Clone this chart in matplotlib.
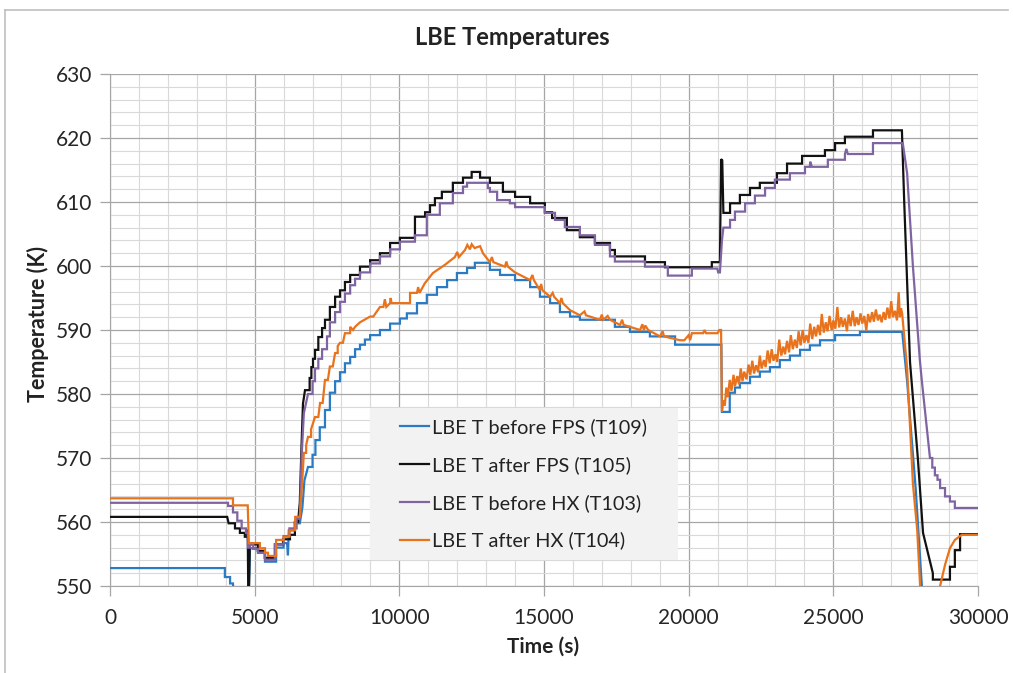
import matplotlib
matplotlib.use("Agg")
import matplotlib.pyplot as plt
from matplotlib.patches import Rectangle
from matplotlib.lines import Line2D
from matplotlib.ticker import MultipleLocator

plt.rcParams['font.family'] = ['Lato', 'DejaVu Sans']

# --- data (time s, temperature K) ---
# vertices are given explicitly; a stair step is two points with the same time
t109 = [(0, 552.8), (3970, 552.8), (3970, 551.4), (4150, 551.4), (4150, 550.4), (4250, 550.4),
        (4300, 547), (4780, 547), (4840, 555.9), (5115, 555.9), (5115, 555.2), (5357, 555.2),
        (5357, 553.8), (5740, 553.8), (5740, 556), (6000, 556), (6000, 556.7), (6120, 556.7),
        (6150, 554.8), (6180, 558.7), (6390, 558.7), (6390, 559.8), (6560, 559.8), (6650, 562.3),
        (6720, 566.5), (6780, 567.5), (6843, 568.6), (7000, 568.6), (7000, 570.5), (7100, 570.5),
        (7100, 572.8), (7250, 572.8), (7250, 574.8), (7430, 574.8), (7430, 577.5), (7600, 577.5),
        (7600, 580.2), (7780, 580.2), (7780, 582), (7950, 582), (7950, 583.4), (8120, 583.4),
        (8120, 584.8), (8300, 584.8), (8300, 585.8), (8470, 585.8), (8470, 587), (8640, 587),
        (8640, 587.7), (8810, 587.7), (8810, 588.5), (8990, 588.5), (8990, 589.2), (9330, 589.2),
        (9330, 590), (9680, 590), (9680, 591), (10020, 591), (10020, 591.8), (10260, 591.8),
        (10260, 592.6), (10610, 592.6), (10610, 594.2), (10950, 594.2), (10950, 595.5), (11300, 595.5),
        (11300, 596.7), (11650, 596.7), (11650, 597.8), (11990, 597.8), (11990, 598.9), (12340, 598.9),
        (12340, 599.7), (12610, 599.7), (12610, 600.5), (13130, 600.5), (13130, 599.4), (13480, 599.4),
        (13480, 598.6), (14000, 598.6), (14000, 597.8), (14520, 597.8), (14520, 596.7), (14860, 596.7),
        (14860, 595.2), (15210, 595.2), (15210, 594.2), (15550, 594.2), (15550, 592.8), (15900, 592.8),
        (15900, 592.1), (16240, 592.1), (16240, 591.6), (17450, 591.6), (17450, 590.5), (17970, 590.5),
        (17970, 589.7), (18660, 589.7), (18660, 589), (19530, 589), (19530, 587.7), (21130, 587.7),
        (21150, 577.2), (21420, 577.2), (21420, 580.2), (21600, 580.2), (21600, 581), (21770, 581),
        (21770, 581.7), (22120, 581.7), (22120, 582.7), (22460, 582.7), (22460, 583.5), (22810, 583.5),
        (22810, 584.2), (23150, 584.2), (23150, 585.3), (23500, 585.3), (23500, 586), (23850, 586),
        (23850, 586.9), (24190, 586.9), (24190, 587.6), (24540, 587.6), (24540, 588.4), (25060, 588.4),
        (25060, 589.2), (25920, 589.2), (25920, 589.7), (27380, 589.7), (27550, 582), (27850, 565),
        (28060, 550), (28100, 546)]

t105 = [(0, 560.8), (4050, 560.8), (4100, 559.8), (4320, 559.8), (4320, 559), (4490, 559),
        (4490, 558.3), (4660, 558.3), (4660, 557.7), (4740, 557.7), (4760, 558.8), (4780, 548),
        (4800, 548), (4830, 556.5), (5110, 556.5), (5110, 555.5), (5350, 555.5), (5350, 554.4),
        (5700, 554.4), (5700, 556.5), (5980, 556.5), (5980, 557.3), (6220, 557.3), (6220, 558),
        (6390, 558), (6390, 560), (6500, 560), (6560, 563), (6620, 572), (6670, 578.5),
        (6740, 580.6), (6900, 580.6), (6900, 582.5), (6960, 582.5), (6960, 584.2), (7016, 584.2),
        (7016, 585.5), (7085, 585.5), (7085, 586.9), (7200, 586.9), (7200, 588.9), (7330, 588.9),
        (7330, 590.3), (7430, 590.3), (7430, 591.6), (7600, 591.6), (7600, 593.6), (7780, 593.6),
        (7780, 595.2), (7950, 595.2), (7950, 596.2), (8120, 596.2), (8120, 597.5), (8300, 597.5),
        (8300, 598.6), (8640, 598.6), (8640, 599.9), (8990, 599.9), (8990, 600.9), (9330, 600.9),
        (9330, 602), (9680, 602), (9680, 603.6), (10020, 603.6), (10020, 604.4), (10540, 604.4),
        (10540, 607.7), (10890, 607.7), (10890, 608.4), (11060, 608.4), (11060, 609.5), (11230, 609.5),
        (11230, 610.6), (11470, 610.6), (11470, 611.6), (11850, 611.6), (11850, 613), (12200, 613),
        (12200, 613.8), (12500, 613.8), (12500, 614.7), (12790, 614.7), (12790, 613.8), (13130, 613.8),
        (13130, 613), (13580, 613), (13580, 611.6), (14000, 611.6), (14000, 610.8), (14520, 610.8),
        (14520, 609.8), (15030, 609.8), (15030, 608.4), (15280, 608.4), (15280, 607.5), (15790, 607.5),
        (15790, 605.6), (16240, 605.6), (16240, 604.5), (16760, 604.5), (16760, 603.6), (17280, 603.6),
        (17280, 602.5), (17450, 602.5), (17450, 601.5), (18490, 601.5), (18490, 600.6), (19180, 600.6),
        (19180, 599.8), (20800, 599.8), (20800, 600.6), (21080, 600.6), (21120, 616.7), (21160, 616.5),
        (21200, 608.3), (21430, 608.3), (21430, 609.8), (21770, 609.8), (21770, 611.1), (22120, 611.1),
        (22120, 612.2), (22460, 612.2), (22460, 613), (23050, 613), (23050, 614.5), (23400, 614.5),
        (23400, 616), (23920, 616), (23920, 617.2), (24710, 617.2), (24710, 618.1), (25060, 618.1),
        (25060, 619.2), (25400, 619.2), (25400, 620.2), (26370, 620.2), (26370, 621.2), (27370, 621.2),
        (27450, 610), (27650, 585), (27920, 570), (28100, 558.3), (28440, 552), (28440, 551),
        (29030, 551), (29030, 553), (29200, 553), (29200, 555.6), (29380, 555.6), (29380, 558.1),
        (30000, 558.1)]

t103 = [(0, 563), (4080, 563), (4080, 562.5), (4250, 562.5), (4250, 561.5), (4400, 561.5),
        (4400, 560.2), (4550, 560.2), (4550, 559), (4700, 559), (4700, 558.3), (4760, 558.3),
        (4770, 556), (4840, 556), (4840, 556.6), (4950, 556.6), (4950, 555.8), (5115, 555.8),
        (5115, 555.2), (5357, 555.2), (5357, 554.1), (5700, 554.1), (5700, 556.5), (6000, 556.5),
        (6000, 557.8), (6200, 557.8), (6200, 559), (6450, 559), (6450, 560.5), (6560, 560.5),
        (6620, 570), (6700, 577), (6770, 578.5), (6843, 580), (7000, 580), (7000, 582),
        (7085, 582), (7085, 584), (7200, 584), (7200, 585.5), (7330, 585.5), (7330, 587),
        (7500, 587), (7500, 589), (7600, 589), (7600, 591.2), (7780, 591.2), (7780, 592.8),
        (7950, 592.8), (7950, 594.4), (8120, 594.4), (8120, 595.7), (8300, 595.7), (8300, 597),
        (8470, 597), (8470, 598), (8640, 598), (8640, 599), (8990, 599), (8990, 600.4),
        (9330, 600.4), (9330, 601.5), (9680, 601.5), (9680, 602.6), (10020, 602.6), (10020, 603.8),
        (10540, 603.8), (10540, 604.8), (10950, 604.8), (10950, 608), (11400, 608), (11400, 609.8),
        (11850, 609.8), (11850, 611.4), (12200, 611.4), (12200, 612.4), (12340, 612.4), (12340, 613),
        (13060, 613), (13060, 612.2), (13130, 612.2), (13130, 611.6), (13380, 611.6), (13380, 610.3),
        (13820, 610.3), (13820, 609.8), (14000, 609.8), (14000, 609.2), (15030, 609.2), (15030, 608.3),
        (15380, 608.3), (15380, 607.2), (15720, 607.2), (15720, 606.1), (16240, 606.1), (16240, 604.8),
        (16760, 604.8), (16760, 603.3), (17280, 603.3), (17280, 601.5), (17450, 601.5), (17450, 600.7),
        (18490, 600.7), (18490, 599.9), (19280, 599.9), (19280, 598.5), (20110, 598.5), (20110, 599.6),
        (20990, 599.6), (21020, 599), (21080, 599), (21150, 604), (21200, 606), (21430, 606),
        (21430, 607.2), (21600, 607.2), (21600, 608.5), (21950, 608.5), (21950, 609.8), (22290, 609.8),
        (22290, 611), (22640, 611), (22640, 612.2), (22980, 612.2), (22980, 613.5), (23500, 613.5),
        (23500, 614.5), (24020, 614.5), (24020, 615.5), (24190, 615.5), (24200, 616.3), (24260, 615.5),
        (24810, 615.5), (24810, 616.6), (25400, 616.6), (25400, 617.5), (25450, 618.3), (25500, 617.5),
        (26370, 617.5), (26370, 619.2), (27400, 619.2), (27550, 614.5), (27750, 600), (27990, 585.3),
        (28060, 582), (28200, 576), (28340, 570), (28420, 570), (28420, 568.5), (28510, 568.5),
        (28510, 567.3), (28600, 567.3), (28600, 566.6), (28690, 566.6), (28690, 565.3), (28860, 565.3),
        (28860, 564), (29030, 564), (29030, 563.2), (29200, 563.2), (29200, 562.2), (30000, 562.2)]

t104 = [(0, 563.7), (4250, 563.7), (4250, 562.6), (4760, 562.6), (4800, 556.7), (5180, 556.7),
        (5180, 555.9), (5357, 555.9), (5357, 555.2), (5460, 555.2), (5460, 554.7), (5740, 554.7),
        (5740, 557.2), (6000, 557.2), (6000, 557.7), (6200, 557.7), (6200, 558.7), (6400, 558.7),
        (6400, 560.8), (6560, 560.8), (6640, 566), (6700, 570.8), (6780, 570.8), (6780, 572),
        (6843, 573.3), (6950, 573.3), (6950, 574.5), (7085, 576.4), (7200, 576.4), (7260, 578.6),
        (7350, 578.6), (7430, 582.2), (7530, 582.2), (7600, 584.3), (7700, 584.3), (7780, 586.4),
        (7870, 586.4), (7870, 587.5), (7950, 588), (8050, 588), (8120, 589.5), (8300, 589.5),
        (8300, 590.5), (8400, 590), (8470, 590.5), (8640, 591.2), (8990, 592.1), (9100, 592.1),
        (9330, 593.6), (9450, 593.6), (9500, 594.8), (9550, 593.6), (9680, 594.2), (9700, 595),
        (9730, 594.2), (10370, 594.2), (10370, 595.8), (10610, 595.8), (10650, 596.7), (10700, 595.8),
        (10880, 597.3), (11160, 598.9), (11580, 600.2), (11920, 601.4), (12000, 602.2), (12060, 601.4),
        (12270, 602.5), (12350, 603.3), (12440, 602.6), (12500, 603.4), (12600, 602.8), (12790, 603.1),
        (12890, 602), (13130, 600.6), (13200, 601.4), (13250, 600.6), (13650, 599.9), (13700, 600.7),
        (13750, 599.9), (14000, 599), (14520, 597.8), (14600, 598.6), (14650, 597.8), (14860, 596.2),
        (14900, 597.2), (14950, 596.2), (15210, 595.2), (15300, 595.8), (15350, 595.2), (15550, 594.2),
        (15600, 595), (15650, 594.2), (15900, 593.1), (16240, 592.3), (16400, 592.9), (16450, 592.3),
        (16930, 591.6), (17000, 592.4), (17050, 591.6), (17200, 592.2), (17280, 591.6), (17630, 590.8),
        (17700, 591.6), (17750, 590.8), (18320, 590), (18400, 590.9), (18450, 590), (18500, 590.7),
        (18600, 590), (19010, 589), (19100, 589.8), (19150, 589), (19700, 588.4), (19850, 588.4),
        (20000, 589.2), (20050, 588.4), (20110, 589.5), (20500, 589.5), (20550, 590), (20600, 589.5),
        (21000, 589.5), (21060, 590), (21120, 590), (21150, 577.2), (21200, 579), (21250, 578.2),
        (21300, 581), (21350, 579.5), (21420, 582.2), (21480, 580.5), (21550, 583), (21600, 581.2),
        (21680, 582.8), (21740, 581.5), (21800, 584), (21860, 582), (21920, 583.5), (22000, 582.3),
        (22070, 584.6), (22130, 583), (22200, 585.2), (22260, 583.2), (22330, 584.5), (22400, 583.4),
        (22460, 586), (22520, 584), (22600, 585.3), (22660, 584.2), (22730, 586.8), (22800, 584.8),
        (22870, 587), (22930, 585.2), (23000, 586.2), (23060, 585), (23130, 588.5), (23200, 586),
        (23270, 587.4), (23330, 586.2), (23400, 588.3), (23470, 586.5), (23530, 589.2), (23600, 587),
        (23670, 588.5), (23740, 587.2), (23800, 589.8), (23870, 587.6), (23940, 590), (24000, 588),
        (24070, 589.2), (24140, 588), (24200, 591), (24270, 588.6), (24340, 590.5), (24400, 589),
        (24470, 590.8), (24540, 589.2), (24600, 592.5), (24670, 589.6), (24740, 591.2), (24800, 589.8),
        (24870, 592.2), (24940, 590), (25000, 591.5), (25070, 590.2), (25140, 593.6), (25200, 590.4),
        (25270, 592), (25330, 590.5), (25400, 591.8), (25470, 589.8), (25530, 592.4), (25600, 590.6),
        (25670, 593), (25740, 590.6), (25800, 592), (25870, 590.8), (25940, 592.6), (26000, 591),
        (26070, 592.2), (26140, 589.9), (26200, 592.5), (26270, 591.2), (26340, 592.8), (26400, 591.3),
        (26470, 593.2), (26540, 591.5), (26600, 592.4), (26670, 591.2), (26740, 592.8), (26800, 591.6),
        (26870, 593.5), (26940, 591.8), (27000, 594.5), (27060, 592), (27130, 593), (27200, 591.5),
        (27260, 595.9), (27300, 592), (27340, 593.4), (27380, 592.5), (27550, 584), (27750, 566),
        (27900, 558.7), (28000, 550), (28050, 546), (28650, 546), (28690, 550), (28860, 553.3),
        (29030, 555.9), (29200, 557.2), (29440, 558), (30000, 558)]

labels = ["LBE T before FPS (T109)", "LBE T after FPS (T105)",
          "LBE T before HX (T103)", "LBE T after HX (T104)"]
colors = ["#2a7bc4", "#111111", "#8064a2", "#e8731c"]
series = [t109, t105, t103, t104]

fig = plt.figure(figsize=(10.13, 6.73), dpi=100)
ax = fig.add_axes([110 / 1013, 87 / 673, 868 / 1013, 512 / 673])

ax.set_xlim(0, 30000)
ax.set_ylim(550, 630)
ax.xaxis.set_major_locator(MultipleLocator(5000))
ax.xaxis.set_minor_locator(MultipleLocator(1000))
ax.yaxis.set_major_locator(MultipleLocator(10))
ax.yaxis.set_minor_locator(MultipleLocator(2))
ax.grid(which='major', color='#a6a6a6', lw=0.9, zorder=0)
ax.grid(which='minor', color='#d9d9d9', lw=0.8, zorder=0)
ax.set_axisbelow(True)
for s in ['top', 'right']:
    ax.spines[s].set_visible(False)
for s in ['left', 'bottom']:
    ax.spines[s].set_color('#a6a6a6')
ax.tick_params(which='major', length=7, width=0.9, color='#a6a6a6',
               labelsize=15, labelcolor='#262626')
ax.tick_params(axis='x', which='major', pad=9)
ax.tick_params(axis='y', which='major', pad=6)
ax.tick_params(which='minor', length=0)

# legend background box
ax.add_patch(Rectangle((0.2995, 0.051), 0.3545, 0.297, transform=ax.transAxes,
                       facecolor='#f2f2f2', edgecolor='none', zorder=2))

for pts, c in zip(series, colors):
    ts = [p[0] for p in pts]
    vs = [p[1] for p in pts]
    ax.plot(ts, vs, color=c, lw=1.6, zorder=3, solid_joinstyle='miter')

handles = [Line2D([], [], color=c, lw=1.6) for c in colors]
ax.legend(handles, labels, loc='center', bbox_to_anchor=(0.4765, 0.1995),
          frameon=False, fontsize=14.3, handlelength=1.45, handletextpad=0.15,
          labelspacing=1.0, labelcolor='#222222')

fig.text(0.506, 0.944, "LBE Temperatures", ha='center', va='center',
         fontsize=17, fontweight='bold', color='#222222')
fig.text(38 / 1013, 1 - 324 / 673, "Temperature (K)", ha='center', va='center',
         rotation=90, fontsize=15.5, fontweight='bold', color='#222222')
fig.text(543 / 1013, 1 - 647 / 673, "Time (s)", ha='center', va='center',
         fontsize=15, fontweight='bold', color='#222222')

# chart area border (left and top)
fig.add_artist(Line2D([5 / 1013, 5 / 1013], [0, 1 - 10 / 673], transform=fig.transFigure,
                      color='#bfbfbf', lw=1.2))
fig.add_artist(Line2D([5 / 1013, 1008 / 1013], [1 - 10 / 673, 1 - 10 / 673],
                      transform=fig.transFigure, color='#bfbfbf', lw=1.2))

fig.savefig("out.png", dpi=100)
